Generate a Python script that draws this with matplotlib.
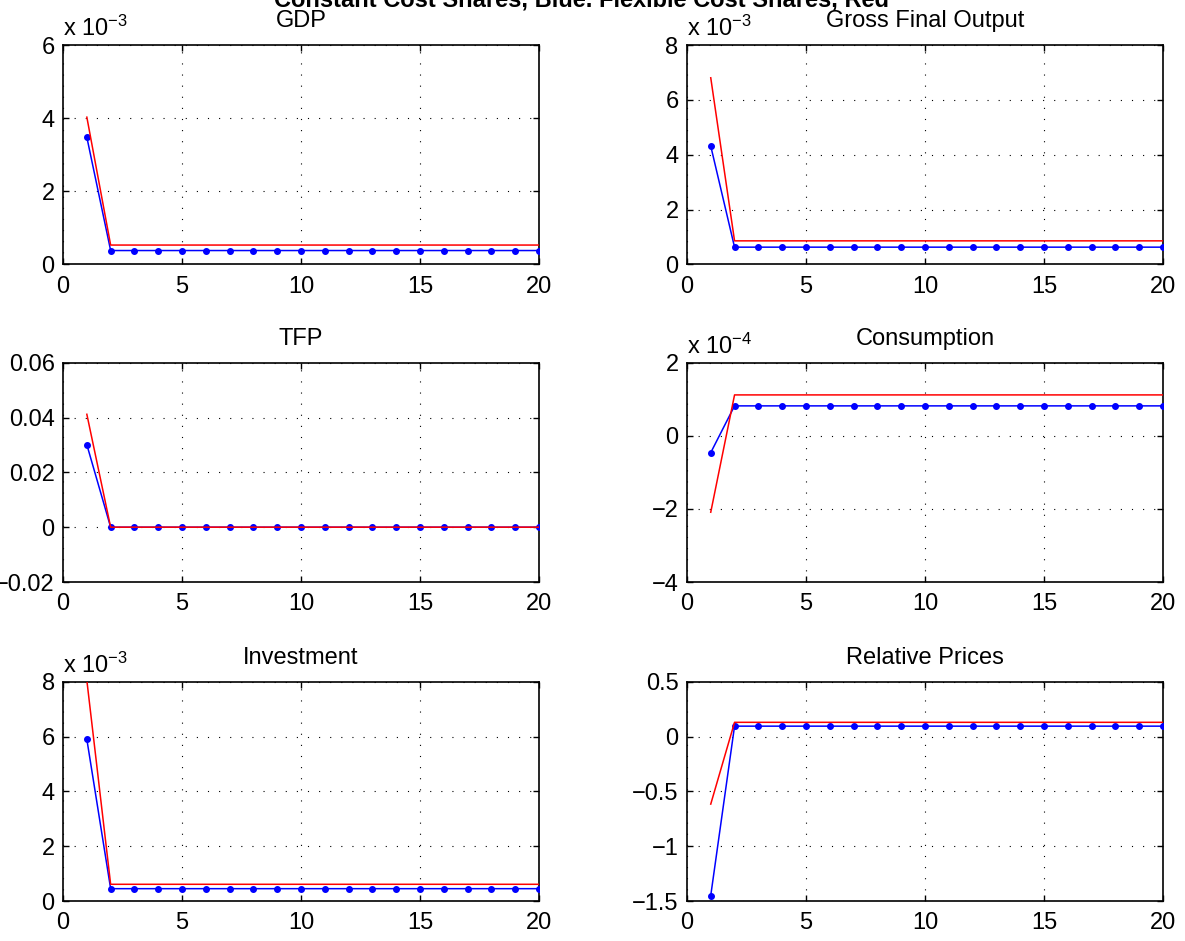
import numpy as np
import matplotlib
matplotlib.use('Agg')
import matplotlib.pyplot as plt

plt.rcParams['font.family'] = ['Liberation Sans', 'DejaVu Sans']
plt.rcParams['mathtext.fontset'] = 'custom'
plt.rcParams['mathtext.rm'] = 'Liberation Sans'
plt.rcParams['mathtext.it'] = 'Liberation Sans'

periods = list(range(1, 21))

# blue = constant cost shares, red = flexible cost shares
gdp_blue = [3.48e-3] + [0.38e-3] * 19
gdp_red = [4.03e-3] + [0.53e-3] * 19
gfo_blue = [4.32e-3] + [0.63e-3] * 19
gfo_red = [6.81e-3] + [0.86e-3] * 19
tfp_blue = [0.0301] + [0.0] * 19
tfp_red = [0.0412] + [0.0] * 19
cons_blue = [-0.46e-4] + [0.82e-4] * 19
cons_red = [-2.09e-4] + [1.12e-4] * 19
inv_blue = [5.90e-3] + [0.45e-3] * 19
inv_red = [8.05e-3] + [0.61e-3] * 19
relp_blue = [-1.45] + [0.095] * 19
relp_red = [-0.616] + [0.13] * 19

titles = ['GDP', 'Gross Final Output', 'TFP', 'Consumption',
          'Investment', 'Relative Prices']
blues = [gdp_blue, gfo_blue, tfp_blue, cons_blue, inv_blue, relp_blue]
reds = [gdp_red, gfo_red, tfp_red, cons_red, inv_red, relp_red]
exponents = [-3, -3, None, -4, -3, None]
ylims = [(0, 6), (0, 8), (-0.02, 0.06), (-4, 2), (0, 8), (-1.5, 0.5)]
yticks = [[0, 2, 4, 6], [0, 2, 4, 6, 8], [-0.02, 0, 0.02, 0.04, 0.06],
          [-4, -2, 0, 2], [0, 2, 4, 6, 8], [-1.5, -1, -0.5, 0, 0.5]]

fig = plt.figure(figsize=(11.85, 9.41), dpi=100)

lefts = [0.0532, 0.5797]
bottoms = [0.719, 0.3815, 0.0425]
w, h = 0.4017, 0.233

fs = 17

for i in range(6):
    r, c = divmod(i, 2)
    ax = fig.add_axes([lefts[c], bottoms[r], w, h])
    scale = 1.0 if exponents[i] is None else 10.0 ** exponents[i]
    yb = np.array(blues[i]) / scale
    yr = np.array(reds[i]) / scale
    ax.plot(periods, yb, color='blue', lw=1.1, marker='.', ms=8, zorder=3)
    ax.plot(periods, yr, color='red', lw=1.1, zorder=4)
    ax.set_xlim(0, 20)
    ax.set_ylim(*ylims[i])
    ax.set_xticks([0, 5, 10, 15, 20])
    ax.set_yticks(yticks[i])
    ax.set_yticklabels(['\u2212%g' % -v if v < 0 else '%g' % v for v in yticks[i]])
    ax.tick_params(direction='in', length=4, width=1, labelsize=fs,
                   top=True, right=True)
    ax.tick_params(axis='x', pad=8)
    ax.tick_params(axis='y', pad=6)
    for s in ax.spines.values():
        s.set_linewidth(1.2)
    ax.grid(True, color='black', linestyle=(0, (1, 9)), lw=0.8)
    ax.set_title(titles[i], fontsize=fs, pad=13)
    if exponents[i] is not None:
        ax.text(0.0, 1.04, 'x 10$^{\u2212%d}$' % -exponents[i],
                transform=ax.transAxes, fontsize=fs, ha='left', va='baseline')

fig.text(0.491, 0.9935, 'Constant Cost Shares, Blue. Flexible Cost Shares, Red',
         fontsize=fs, fontweight='bold', ha='center', va='baseline')

fig.savefig('out.png', dpi=100)
